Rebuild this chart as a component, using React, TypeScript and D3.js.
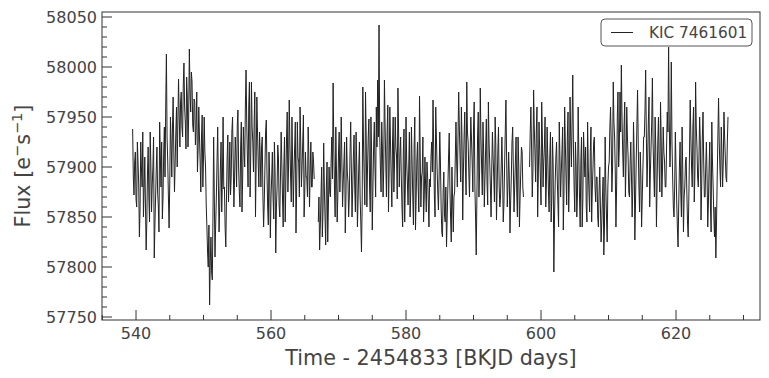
import React from "react";
import * as d3 from "d3";

// Three observing segments (start time in days, sampled every CADENCE days)
const SEGMENT_STARTS = [539.5, 567.0, 598.3];
const CADENCE = 0.1;

const flux1 = [
  57938, 57890, 57872, 57905, 57915, 57868, 57860, 57925, 57905, 57882, 57830, 57858, 57925, 57900,
  57880, 57935, 57850, 57877, 57910, 57862, 57817, 57845, 57895, 57920, 57870, 57845, 57935, 57902,
  57855, 57882, 57900, 57930, 57809, 57842, 57870, 57898, 57920, 57875, 57862, 57835, 57945, 57912,
  57880, 57925, 57848, 57870, 57915, 57940, 57890, 57960,
  58013, 57930,
  57905, 57870, 57839, 57885, 57950, 57925, 57890, 57940, 57970, 57915, 57875, 57905, 57935, 57960,
  57900, 57945, 57988, 57950, 57920, 57965,
  57975, 57940, 57930, 57982, 58004, 57960, 57945, 57918, 57990, 57970, 57920, 57950, 58018, 57975,
  57955, 57995, 57985, 57942, 57935, 57968, 57965, 57922,
  57940, 57975, 57895, 57918, 57960, 57930, 57905, 57875, 57930, 57952, 57880, 57910, 57950, 57915,
  57900, 57862,
  57840, 57815, 57800, 57842, 57762, 57805, 57830, 57795, 57787, 57850, 57930, 57870, 57810, 57842,
  57870, 57905, 57940, 57885, 57835, 57862, 57900, 57925, 57855, 57890, 57950, 57878, 57880, 57840,
  57820, 57868, 57910, 57932, 57865, 57890, 57925, 57872,
  57890, 57935, 57950, 57905, 57860, 57888, 57930, 57912, 57880, 57942, 57957, 57900, 57875, 57860,
  57920, 57945, 57855, 57890, 57940, 57915, 57900, 57960,
  57997, 57945, 57910, 57880, 57960, 57985, 57870, 57915, 57985, 57940, 57925, 57895, 57945, 57975,
  57850, 57905, 57970, 57935, 57905, 57880, 57935, 57910,
  57880, 57920, 57930, 57870, 57840, 57865, 57900, 57935, 57947, 57895, 57860, 57842, 57915, 57890,
  57829, 57870, 57890, 57915, 57870, 57848, 57925, 57895,
  57814, 57860, 57880, 57922, 57910, 57862, 57850, 57890, 57935, 57905, 57870, 57840, 57900, 57930,
  57845, 57885,
  57930, 57955, 57875, 57900, 57967, 57922, 57890, 57865, 57950, 57905, 57860, 57895, 57920, 57945,
  57834, 57880, 57945, 57910, 57905, 57870, 57960, 57925, 57880, 57900, 57925, 57952, 57850, 57875,
  57915, 57890,
  57890, 57870, 57940, 57912, 57860, 57895, 57925, 57880, 57880, 57915, 57905, 57888,
];

const flux2 = [
  57845, 57870, 57817, 57840, 57870, 57900, 57830, 57855, 57924, 57880, 57850, 57822, 57880, 57905,
  57825, 57860, 57900, 57875,
  57870, 57905, 57930, 57888, 57984, 57920, 57880, 57850, 57940, 57895, 57845, 57872, 57915, 57935,
  57875, 57900,
  57950, 57905, 57860, 57885, 57905, 57925, 57834, 57870, 57930, 57895, 57885, 57850, 57870, 57912,
  57945, 57900, 57850, 57878, 57910, 57932, 57880, 57855, 57935, 57902, 57840, 57868, 57900, 57925,
  57870, 57845,
  57815, 57860,
  57980, 57925, 57890, 57862, 57975, 57930, 57860, 57900, 57930, 57948, 57880, 57855, 57950, 57915,
  57837, 57880, 57920, 57945, 57900, 57870, 57960, 57920, 57987, 57930,
  58042, 57935,
  57900, 57875, 57945, 57920, 57870, 57898, 57987, 57940, 57905, 57870, 57935, 57962, 57855, 57895,
  57960, 57925, 57890, 57860, 57925, 57950, 57875, 57905, 57950, 57920, 57910, 57868, 57979, 57935,
  57880, 57910,
  57930, 57890, 57860, 57840, 57915, 57938, 57845, 57880, 57950, 57905, 57885, 57862, 57900, 57935,
  57850, 57875, 57940, 57905, 57870, 57842, 57920, 57950, 57837, 57868, 57905, 57925, 57880, 57855,
  57971, 57915, 57860, 57890, 57895, 57930, 57845, 57870, 57910, 57882, 57855, 57905, 57890, 57865,
  57840, 57888,
  57880, 57910, 57925, 57895, 57967, 57920, 57870, 57850, 57960, 57930, 57900, 57875, 57857, 57890,
  57935, 57905,
  57860, 57835, 57830, 57875, 57895, 57852, 57845, 57880, 57820, 57850, 57880, 57910, 57934, 57880,
  57850, 57825, 57900, 57868, 57835, 57870, 57875, 57910,
  57945, 57905, 57880, 57930, 57975, 57940, 57910, 57885, 57960, 57925, 57847, 57895, 57930, 57955,
  57900, 57872, 57985, 57935, 57925, 57895, 57870, 57912, 57950, 57928, 57905, 57875, 57940, 57965,
  57880, 57850,
  57812, 57870,
  57930, 57955, 57870, 57895, 57979, 57930, 57900, 57872, 57945, 57915, 57860, 57890, 57920, 57948,
  57885, 57862, 57965, 57925, 57905, 57880, 57850, 57898, 57935, 57910, 57890, 57865, 57950, 57922,
  57847, 57880, 57915, 57940, 57880, 57860,
  57870, 57900, 57930, 57895, 57845, 57862, 57900, 57935, 57967, 57910, 57860, 57880, 57915, 57890,
  57834, 57865, 57890, 57925, 57940, 57898, 57855, 57880, 57905, 57930, 57875, 57850, 57930, 57902,
  57840, 57870, 57895, 57920, 57915, 57880, 57870,
];

const flux3 = [
  57900, 57935, 57960, 57920, 57870, 57895, 57977, 57940, 57915, 57885, 57935, 57960, 57850, 57890,
  57945, 57918, 57890, 57862, 57965, 57930, 57880, 57905,
  57920, 57950, 57860, 57885, 57940, 57910, 57875, 57855, 57910, 57935, 57845, 57870, 57930, 57900,
  57795, 57850, 57885, 57910, 57925, 57890, 57865, 57840,
  57945, 57910, 57870, 57895, 57915, 57940, 57837, 57875, 57960, 57925, 57890, 57862, 57930, 57955,
  57855, 57890, 57970, 57930, 57900, 57945, 57992, 57920,
  57880, 57855, 57925, 57900, 57850, 57872, 57960, 57915, 57870, 57840, 57905, 57930, 57840, 57868,
  57935, 57910, 57890, 57920, 57860, 57845, 57945, 57900, 57875, 57855, 57915, 57940, 57845, 57878,
  57900, 57925, 57930, 57880, 57865, 57890, 57890, 57850,
  57840, 57875, 57900, 57860, 57825, 57845, 57870, 57890, 57812, 57840, 57930, 57880, 57850, 57825,
  57880, 57900,
  57905, 57940, 57960, 57925, 57875, 57900, 57985, 57945, 57930, 57895, 57840, 57880, 57950, 57975,
  57900, 57920, 57975, 57935, 58002, 57950, 57915, 57890, 57940, 57965, 57870, 57905, 57960, 57930,
  57910, 57875,
  57870, 57905, 57925, 57890, 57850, 57880, 57945, 57910, 57827, 57865, 57905, 57940, 57977, 57925,
  57880, 57855, 57915, 57890, 57840, 57870, 57900, 57930,
  57930, 57955, 57997, 57935, 57880, 57910, 57945, 57970, 57860, 57895, 57920, 57945, 57989, 57925,
  57895, 57870, 57950, 57920, 57840, 57885, 57925, 57950, 57900, 57875, 57965, 57930, 57870, 57898,
  57940, 57915, 57905, 57880, 57880, 57920, 57955, 57935,
  58020, 57945, 57900, 57930, 58005, 57925,
  57890, 57860, 57850, 57880, 57935, 57900, 57865, 57840, 57820, 57862, 57900, 57925, 57875, 57850,
  57940, 57895, 57835, 57870, 57880, 57905, 57910, 57875, 57845, 57830, 57870, 57915,
  57967, 57930, 57900, 57880, 57940, 57960, 57865, 57895, 57985, 57940, 57920, 57890, 57880, 57910,
  57950, 57925, 57847, 57880, 57930, 57955, 57905, 57870,
  57870, 57900, 57925, 57890, 57840, 57865, 57900, 57925, 57860, 57835, 57945, 57905, 57880, 57850,
  57830, 57860, 57809, 57845, 57890, 57930, 57969, 57925,
  57900, 57880, 57940, 57915, 57880, 57905, 57955, 57930, 57910, 57890, 57885, 57925, 57950,
];

const SEGMENTS = [flux1, flux2, flux3];
const X_TICKS = [540, 560, 580, 600, 620];
const Y_TICKS = [57750, 57800, 57850, 57900, 57950, 58000, 58050];
const LEGEND_LABEL = "KIC 7461601";
const X_LABEL = "Time - 2454833 [BKJD days]";

const W = 769;
const H = 378;
const M = { left: 102, right: 760, top: 12, bottom: 320 };
const FONT = "DejaVu Sans, sans-serif";
const TEXT = "#444";
const AXIS = "#333";

export default function App() {
  const x = d3.scaleLinear().domain([534.96, 632.44]).range([M.left, M.right]);
  const y = d3.scaleLinear().domain([57747, 58055]).range([M.bottom, M.top]);

  const line = d3
    .line<[number, number]>()
    .x((d) => x(d[0]))
    .y((d) => y(d[1]));

  const paths = SEGMENTS.map((seg, s) =>
    line(seg.map((v, i) => [SEGMENT_STARTS[s] + i * CADENCE, v] as [number, number]))
  );

  const xMinor = d3.range(535, 633, 5).filter((t) => !X_TICKS.includes(t));
  const yMinor = d3.range(57750, 58055, 10).filter((v) => !Y_TICKS.includes(v));

  return (
    <svg
      width={W}
      height={H}
      style={{ position: "absolute", left: 0, top: 0, background: "#fff" }}
      fontFamily={FONT}
    >
      <rect x={0} y={0} width={W} height={H} fill="#fff" />
      <defs>
        <clipPath id="plotclip">
          <rect x={M.left} y={M.top} width={M.right - M.left} height={M.bottom - M.top} />
        </clipPath>
      </defs>
      <g clipPath="url(#plotclip)">
        {paths.map((d, i) => (
          <path key={i} d={d ?? ""} fill="none" stroke="#222" strokeWidth={1} />
        ))}
      </g>
      {/* frame */}
      <rect
        x={M.left}
        y={M.top}
        width={M.right - M.left}
        height={M.bottom - M.top}
        fill="none"
        stroke={AXIS}
        strokeWidth={1}
      />
      {/* x ticks */}
      {X_TICKS.map((t) => (
        <g key={"xt" + t}>
          <line x1={x(t)} x2={x(t)} y1={M.bottom} y2={M.bottom - 10} stroke={AXIS} />
          <text x={x(t)} y={M.bottom + 19} textAnchor="middle" fontSize={16} fill={TEXT}>
            {t}
          </text>
        </g>
      ))}
      {xMinor.map((t) => (
        <line key={"xm" + t} x1={x(t)} x2={x(t)} y1={M.bottom} y2={M.bottom - 5} stroke={AXIS} />
      ))}
      {/* y ticks */}
      {Y_TICKS.map((v) => (
        <g key={"yt" + v}>
          <line x1={M.left} x2={M.left + 10} y1={y(v)} y2={y(v)} stroke={AXIS} />
          <text
            x={M.left - 5}
            y={y(v)}
            dy="0.35em"
            textAnchor="end"
            fontSize={16}
            fill={TEXT}
          >
            {v}
          </text>
        </g>
      ))}
      {yMinor.map((v) => (
        <line key={"ym" + v} x1={M.left} x2={M.left + 5} y1={y(v)} y2={y(v)} stroke={AXIS} />
      ))}
      {/* axis labels */}
      <text x={(M.left + M.right) / 2} y={365} textAnchor="middle" fontSize={20.7} fill={TEXT}>
        {X_LABEL}
      </text>
      <text
        transform={`translate(30, ${(M.top + M.bottom) / 2}) rotate(-90)`}
        textAnchor="middle"
        fontSize={20.7}
        fill={TEXT}
      >
        Flux [e
        <tspan fontSize={14.5} dy={-8}>
          −
        </tspan>
        <tspan dy={8}>s</tspan>
        <tspan fontSize={14.5} dy={-8}>
          −1
        </tspan>
        <tspan dy={8}>]</tspan>
      </text>
      {/* legend */}
      <g>
        <rect x={601} y={19} width={151} height={27} rx={4} fill="#fff" stroke="#555" strokeWidth={1} />
        <line x1={611} x2={633} y1={32.5} y2={32.5} stroke="#222" strokeWidth={1} />
        <text x={649} y={32.5} dy="0.35em" fontSize={15.3} fill={TEXT}>
          {LEGEND_LABEL}
        </text>
      </g>
    </svg>
  );
}
